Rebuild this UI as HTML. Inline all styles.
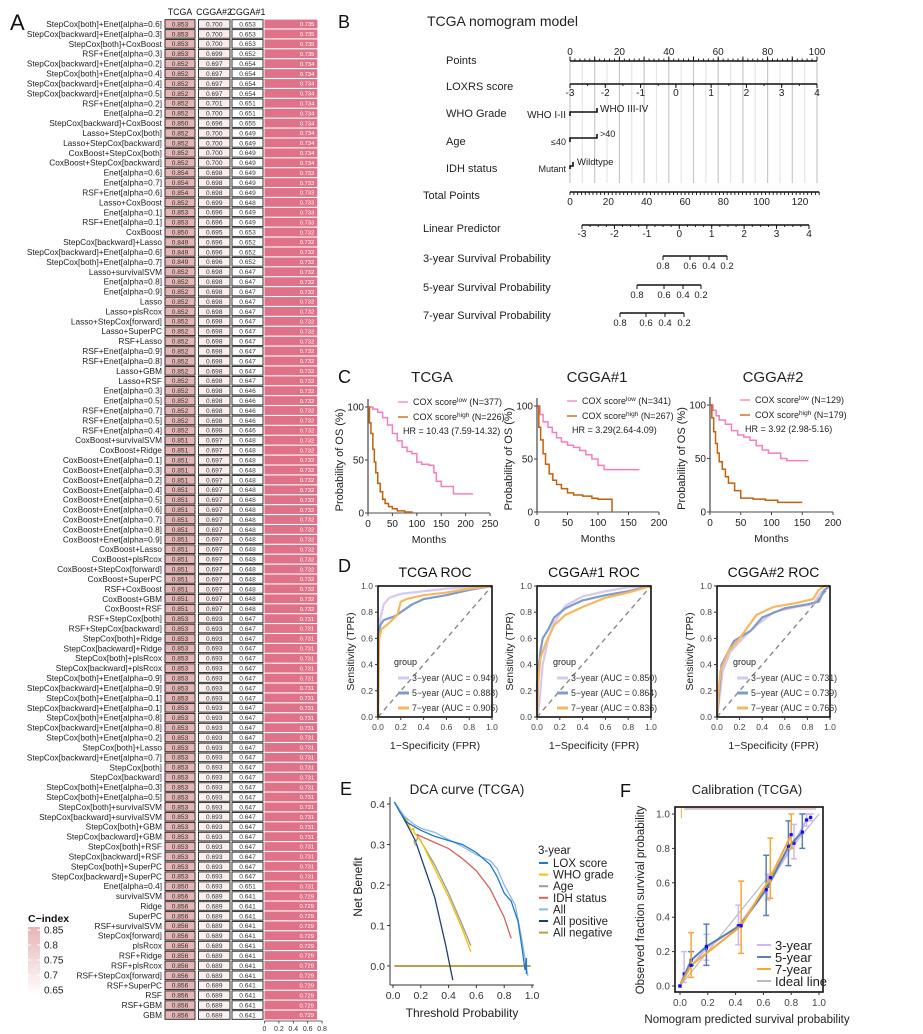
<!DOCTYPE html>
<html><head><meta charset="utf-8">
<style>
html,body{margin:0;padding:0;background:#fff;}
svg{display:block;font-family:"Liberation Sans",Arial,sans-serif;}
</style></head>
<body>
<svg id="fig" width="923" height="1034" viewBox="0 0 923 1034" xmlns="http://www.w3.org/2000/svg"></svg>
<script>
// ---------- Panel A data ----------
const models = ["StepCox[both]+Enet[alpha=0.6]","StepCox[backward]+Enet[alpha=0.3]","StepCox[both]+CoxBoost","RSF+Enet[alpha=0.3]","StepCox[backward]+Enet[alpha=0.2]","StepCox[both]+Enet[alpha=0.4]","StepCox[backward]+Enet[alpha=0.4]","StepCox[backward]+Enet[alpha=0.5]","RSF+Enet[alpha=0.2]","Enet[alpha=0.2]","StepCox[backward]+CoxBoost","Lasso+StepCox[both]","Lasso+StepCox[backward]","CoxBoost+StepCox[both]","CoxBoost+StepCox[backward]","Enet[alpha=0.6]","Enet[alpha=0.7]","RSF+Enet[alpha=0.6]","Lasso+CoxBoost","Enet[alpha=0.1]","RSF+Enet[alpha=0.1]","CoxBoost","StepCox[backward]+Lasso","StepCox[backward]+Enet[alpha=0.6]","StepCox[both]+Enet[alpha=0.7]","Lasso+survivalSVM","Enet[alpha=0.8]","Enet[alpha=0.9]","Lasso","Lasso+plsRcox","Lasso+StepCox[forward]","Lasso+SuperPC","RSF+Lasso","RSF+Enet[alpha=0.9]","RSF+Enet[alpha=0.8]","Lasso+GBM","Lasso+RSF","Enet[alpha=0.3]","Enet[alpha=0.5]","RSF+Enet[alpha=0.7]","RSF+Enet[alpha=0.5]","RSF+Enet[alpha=0.4]","CoxBoost+survivalSVM","CoxBoost+Ridge","CoxBoost+Enet[alpha=0.1]","CoxBoost+Enet[alpha=0.3]","CoxBoost+Enet[alpha=0.2]","CoxBoost+Enet[alpha=0.4]","CoxBoost+Enet[alpha=0.5]","CoxBoost+Enet[alpha=0.6]","CoxBoost+Enet[alpha=0.7]","CoxBoost+Enet[alpha=0.8]","CoxBoost+Enet[alpha=0.9]","CoxBoost+Lasso","CoxBoost+plsRcox","CoxBoost+StepCox[forward]","CoxBoost+SuperPC","RSF+CoxBoost","CoxBoost+GBM","CoxBoost+RSF","RSF+StepCox[both]","RSF+StepCox[backward]","StepCox[both]+Ridge","StepCox[backward]+Ridge","StepCox[both]+plsRcox","StepCox[backward]+plsRcox","StepCox[both]+Enet[alpha=0.9]","StepCox[backward]+Enet[alpha=0.9]","StepCox[both]+Enet[alpha=0.1]","StepCox[backward]+Enet[alpha=0.1]","StepCox[both]+Enet[alpha=0.8]","StepCox[backward]+Enet[alpha=0.8]","StepCox[both]+Enet[alpha=0.2]","StepCox[both]+Lasso","StepCox[backward]+Enet[alpha=0.7]","StepCox[both]","StepCox[backward]","StepCox[both]+Enet[alpha=0.3]","StepCox[both]+Enet[alpha=0.5]","StepCox[both]+survivalSVM","StepCox[backward]+survivalSVM","StepCox[both]+GBM","StepCox[backward]+GBM","StepCox[both]+RSF","StepCox[backward]+RSF","StepCox[both]+SuperPC","StepCox[backward]+SuperPC","Enet[alpha=0.4]","survivalSVM","Ridge","SuperPC","RSF+survivalSVM","StepCox[forward]","plsRcox","RSF+Ridge","RSF+plsRcox","RSF+StepCox[forward]","RSF+SuperPC","RSF","RSF+GBM","GBM"];
const cTCGA = [0.853,0.853,0.853,0.853,0.852,0.852,0.852,0.852,0.852,0.852,0.850,0.852,0.852,0.852,0.852,0.854,0.854,0.854,0.852,0.853,0.853,0.850,0.849,0.849,0.849,
0.852,0.852,0.852,0.852,0.852,0.852,0.852,0.852,0.852,0.852,0.852,0.852,0.852,0.852,0.852,0.852,0.852,
0.851,0.851,0.851,0.851,0.851,0.851,0.851,0.851,0.851,0.851,0.851,0.851,0.851,0.851,0.851,0.851,0.851,0.851,
0.853,0.853,0.853,0.853,0.853,0.853,0.853,0.853,0.853,0.853,0.853,0.853,0.853,0.853,0.853,0.853,0.853,0.853,0.853,0.853,0.853,0.853,0.853,0.853,0.853,0.853,0.853,
0.850,0.856,0.856,0.856,0.856,0.856,0.856,0.856,0.856,0.856,0.856,0.856,0.856,0.856];
const cCGGA2 = [0.700,0.700,0.700,0.699,0.697,0.697,0.697,0.697,0.701,0.700,0.696,0.700,0.700,0.700,0.700,0.698,0.698,0.698,0.699,0.696,0.696,0.695,0.696,0.696,0.696,
0.698,0.698,0.698,0.698,0.698,0.698,0.698,0.698,0.698,0.698,0.698,0.698,0.698,0.698,0.698,0.698,0.698,
0.697,0.697,0.697,0.697,0.697,0.697,0.697,0.697,0.697,0.697,0.697,0.697,0.697,0.697,0.697,0.697,0.697,0.697,
0.693,0.693,0.693,0.693,0.693,0.693,0.693,0.693,0.693,0.693,0.693,0.693,0.693,0.693,0.693,0.693,0.693,0.693,0.693,0.693,0.693,0.693,0.693,0.693,0.693,0.693,0.693,
0.693,0.689,0.689,0.689,0.689,0.689,0.689,0.689,0.689,0.689,0.689,0.689,0.689,0.689];
const cCGGA1 = [0.653,0.653,0.653,0.652,0.654,0.654,0.654,0.654,0.651,0.651,0.655,0.649,0.649,0.649,0.649,0.649,0.649,0.649,0.648,0.649,0.649,0.653,0.652,0.652,0.652,
0.647,0.647,0.647,0.647,0.647,0.647,0.647,0.647,0.647,0.647,0.647,0.647,0.646,0.646,0.646,0.646,0.646,
0.648,0.648,0.648,0.648,0.648,0.648,0.648,0.648,0.648,0.648,0.648,0.648,0.648,0.648,0.648,0.648,0.648,0.648,
0.647,0.647,0.647,0.647,0.647,0.647,0.647,0.647,0.647,0.647,0.647,0.647,0.647,0.647,0.647,0.647,0.647,0.647,0.647,0.647,0.647,0.647,0.647,0.647,0.647,0.647,0.647,
0.651,0.641,0.641,0.641,0.641,0.641,0.641,0.641,0.641,0.641,0.641,0.641,0.641,0.641];
const cMean = [0.735,0.735,0.735,0.735,0.734,0.734,0.734,0.734,0.734,0.734,0.734,0.734,0.734,0.734,0.734,0.733,0.733,0.733,0.733,0.733,0.733,0.732,0.732,0.732,0.732,
0.732,0.732,0.732,0.732,0.732,0.732,0.732,0.732,0.732,0.732,0.732,0.732,0.732,0.732,0.732,0.732,0.732,
0.732,0.732,0.732,0.732,0.732,0.732,0.732,0.732,0.732,0.732,0.732,0.732,0.732,0.732,0.732,0.732,0.732,0.732,
0.731,0.731,0.731,0.731,0.731,0.731,0.731,0.731,0.731,0.731,0.731,0.731,0.731,0.731,0.731,0.731,0.731,0.731,0.731,0.731,0.731,0.731,0.731,0.731,0.731,0.731,0.731,
0.731,0.729,0.729,0.729,0.729,0.729,0.729,0.729,0.729,0.729,0.729,0.729,0.729,0.729];
const barTicks = [0,0.2,0.4,0.6,0.8];
const cLegendTicks = [0.85,0.8,0.75,0.7,0.65];

// ---------- Panel C data (KM) ----------
const kmTime_TCGA_low  = [0,10,20,30,40,50,60,70,80,90,100,110,125,135,140,150,165,175,215];
const kmSurv_TCGA_low  = [100,98,95,90,83,75,68,62,58,56,48,46,45,38,30,25,25,18,18];
const kmTime_TCGA_high = [0,3,6,10,13,16,20,25,30,35,42,50,60,75,90];
const kmSurv_TCGA_high = [100,85,75,60,48,38,28,20,13,9,6,4,2,1,0];
const kmTime_C1_low  = [0,5,10,18,25,32,40,50,60,70,80,90,100,110,168];
const kmSurv_C1_low  = [100,92,85,80,75,70,66,63,61,58,54,50,44,40,40];
const kmTime_C1_high = [0,3,6,10,14,20,26,32,40,50,60,75,90,100,122,123];
const kmSurv_C1_high = [100,80,68,55,45,36,30,26,22,18,16,15,13,12,12,0];
const kmTime_C2_low  = [0,5,10,15,25,35,45,55,65,75,85,95,105,115,125,160];
const kmSurv_C2_low  = [100,95,90,86,82,76,72,70,67,62,58,55,55,50,48,48];
const kmTime_C2_high = [0,3,6,9,12,15,20,25,30,40,50,70,90,110,150];
const kmSurv_C2_high = [100,88,75,64,55,47,40,33,27,20,13,12,11,9,9];

// ---------- Panel D data (ROC) ----------
const rocT_3y_fpr=[0,0,0.01,0.02,0.05,0.1,0.2,0.4,0.6,0.8,1];
const rocT_3y_tpr=[0,0.3,0.6,0.75,0.86,0.91,0.94,0.96,0.98,0.99,1];
const rocT_5y_fpr=[0,0,0.02,0.05,0.15,0.2,0.3,0.4,0.6,0.8,1];
const rocT_5y_tpr=[0,0.6,0.7,0.74,0.77,0.8,0.86,0.9,0.93,0.97,1];
const rocT_7y_fpr=[0,0.01,0.03,0.1,0.17,0.2,0.25,0.4,0.6,0.8,1];
const rocT_7y_tpr=[0,0.6,0.67,0.72,0.78,0.88,0.9,0.93,0.95,0.98,1];
const rocA_3y_fpr=[0,0.02,0.05,0.1,0.15,0.25,0.4,0.6,0.8,1];
const rocA_3y_tpr=[0,0.1,0.4,0.6,0.72,0.85,0.92,0.96,0.99,1];
const rocA_5y_fpr=[0,0,0.03,0.05,0.1,0.15,0.25,0.4,0.6,0.8,1];
const rocA_5y_tpr=[0,0.25,0.5,0.6,0.67,0.76,0.83,0.89,0.93,0.96,1];
const rocA_7y_fpr=[0,0.01,0.03,0.08,0.15,0.25,0.4,0.6,0.8,1];
const rocA_7y_tpr=[0,0.25,0.45,0.57,0.7,0.78,0.84,0.91,0.95,1];
const rocB_3y_fpr=[0,0.03,0.05,0.12,0.25,0.35,0.5,0.7,0.85,0.92,1];
const rocB_3y_tpr=[0,0.2,0.35,0.5,0.62,0.7,0.8,0.84,0.86,0.95,1];
const rocB_5y_fpr=[0,0.02,0.04,0.15,0.3,0.4,0.6,0.8,0.9,0.95,1];
const rocB_5y_tpr=[0,0.2,0.4,0.58,0.66,0.76,0.83,0.86,0.88,0.97,1];
const rocB_7y_fpr=[0,0.01,0.03,0.1,0.2,0.35,0.5,0.7,0.85,0.9,0.95,1];
const rocB_7y_tpr=[0,0.15,0.35,0.5,0.6,0.78,0.84,0.87,0.9,0.97,1,1];
const aucT=["0.949","0.888","0.905"], aucA=["0.850","0.864","0.836"], aucB=["0.731","0.739","0.766"];
const rocTicks=[0,0.2,0.4,0.6,0.8,1.0];

// ---------- Panel E data (DCA) ----------
const dcaX_LOX=[0.01,0.05,0.1,0.15,0.2,0.3,0.4,0.5,0.6,0.7,0.75,0.8,0.85,0.9,0.93,0.95,0.96,0.96];
const dcaY_LOX=[0.405,0.38,0.355,0.345,0.335,0.32,0.31,0.3,0.28,0.25,0.22,0.18,0.16,0.11,0.04,-0.01,0.02,-0.02];
const dcaX_All=[0.01,0.08,0.15,0.2,0.3,0.4,0.5,0.6,0.7,0.75,0.8,0.88,0.93,0.97];
const dcaY_All=[0.405,0.37,0.35,0.34,0.33,0.312,0.295,0.275,0.26,0.24,0.2,0.15,0.06,-0.025];
const dcaX_IDH=[0.17,0.3,0.4,0.5,0.6,0.7,0.8,0.85];
const dcaY_IDH=[0.325,0.305,0.29,0.265,0.235,0.19,0.12,0.068];
const dcaX_WHO=[0.01,0.1,0.13,0.15,0.15,0.2,0.3,0.4,0.5,0.56];
const dcaY_WHO=[0.405,0.36,0.335,0.34,0.33,0.31,0.24,0.17,0.09,0.035];
const dcaX_Age=[0.15,0.16,0.18,0.3,0.4,0.5,0.56];
const dcaY_Age=[0.31,0.3,0.32,0.25,0.18,0.1,0.05];
const dcaX_Pos=[0.01,0.1,0.16,0.2,0.3,0.38,0.43];
const dcaY_Pos=[0.405,0.35,0.31,0.27,0.17,0.05,-0.035];
const dcaX_Neg=[0.01,0.99];
const dcaY_Neg=[0,0];
const dcaXTicks=[0,0.2,0.4,0.6,0.8,1.0], dcaYTicks=[0,0.1,0.2,0.3,0.4];

// ---------- Panel F data (calibration) ----------
const cal3_pred=[0,0.03,0.19,0.42,0.63,0.82,0.91,0.94];
const cal3_obs =[0,0.07,0.22,0.35,0.58,0.83,0.965,0.98];
const cal3_lo  =[0,0.02,0.15,0.24,0.5,0.74,0.93,0.96];
const cal3_hi  =[0,0.2,0.3,0.47,0.65,0.94,1,1];
const cal5_pred=[0,0.08,0.19,0.43,0.62,0.78,0.88];
const cal5_obs =[0,0.15,0.23,0.35,0.56,0.81,0.895];
const cal5_lo  =[0,0.12,0.12,0.35,0.41,0.7,0.8];
const cal5_hi  =[0,0.2,0.36,0.35,0.76,0.96,1.0];
const cal7_pred=[0,0.08,0.44,0.65,0.8];
const cal7_obs =[0,0.12,0.35,0.63,0.88];
const cal7_lo  =[0,0.05,0.19,0.51,0.8];
const cal7_hi  =[0,0.31,0.61,0.86,1.0];
const calTicks=[0,0.2,0.4,0.6,0.8,1.0];

const NS="http://www.w3.org/2000/svg";
const svg=document.getElementById('fig');
function mk(tag,attrs,parent){const e=document.createElementNS(NS,tag);for(const k in attrs)e.setAttribute(k,attrs[k]);(parent||svg).appendChild(e);return e;}
function tx(x,y,s,size,anchor,parent,extra){const e=mk('text',Object.assign({x:x,y:y,'font-size':size,'text-anchor':anchor||'start',fill:'#111'},extra||{}),parent);e.textContent=s;return e;}
function grp(name){const g=mk('g',{});return g;}

// ================= PANEL A =================
(function(){
const g=grp('panel-a-cindex-heatmap');
tx(10,30,'A',22,'start',g);
tx(180,15,'TCGA',8.8,'middle',g);
tx(214,15,'CGGA#2',8.8,'middle',g);
tx(247.5,15,'CGGA#1',8.8,'middle',g);
const y0=24, dy=9.91;
const rowY=i=>y0+i*dy;
const col=v=>{const t=Math.max(0,Math.min(1,(v-0.65)/0.2));const r=Math.round(255-(255-229)*t),gg=Math.round(255-(255-180)*t),b=Math.round(255-(255-180)*t);return `rgb(${r},${gg},${b})`;};
const bx0=264.5, bScale=72;
const bxs=v=>bx0+v*bScale;
const cols=[[165,30,cTCGA,'tcga'],[198.5,31.5,cCGGA2,'cgga2'],[232,31,cCGGA1,'cgga1']];
for(let i=0;i<models.length;i++){
  const y=rowY(i);
  const lt=tx(162,y+3,models[i],8.3,'end',g,{fill:'#222'});
  
  for(const [cx,cw,arr,nm] of cols){
    const r=mk('rect',{x:cx,y:y-4.3,width:cw,height:8.6,fill:col(arr[i]),stroke:'#222','stroke-width':0.9},g);
    
    
    tx(cx+cw/2,y+2.4,arr[i].toFixed(3),6.6,'middle',g,{fill:'#333'});
  }
  const b=mk('rect',{x:bx0,y:y-4.4,width:bxs(cMean[i])-bx0,height:8.8,fill:'#df7189'},g);
  
  
  tx(bxs(cMean[i])-3,y+2.2,cMean[i].toFixed(3),5.8,'end',g,{fill:'#fff'});
}
const axY=rowY(models.length-1)+6;
const al=mk('line',{x1:bx0,x2:bxs(0.8),y1:axY,y2:axY,stroke:'#333','stroke-width':0.8},g);

for(const t of barTicks){mk('line',{x1:bxs(t),x2:bxs(t),y1:axY,y2:axY+2.5,stroke:'#333','stroke-width':0.8},g);
const tl=tx(bxs(t),axY+10,String(t),7,'middle',g,{fill:'#333'});
}
const defs=mk('defs',{});
const lg=mk('linearGradient',{id:'cidx',x1:0,y1:1,x2:0,y2:0},defs);
mk('stop',{offset:0,'stop-color':'#ffffff'},lg);mk('stop',{offset:1,'stop-color':'#e8b4b4'},lg);
tx(28,922,'C\u2212index',10.5,'start',g,{'font-weight':'bold'});
const lr=mk('rect',{x:28,y:927,width:12,height:68,fill:'url(#cidx)'},g);


const ly=v=>930+(0.85-v)/0.2*60;
for(const v of cLegendTicks){mk('line',{x1:28,x2:31,y1:ly(v),y2:ly(v),stroke:'#fff'},g);mk('line',{x1:37,x2:40,y1:ly(v),y2:ly(v),stroke:'#fff'},g);
tx(44,ly(v)+3.5,String(v),10,'start',g,{fill:'#222'});}
})();

// ================= PANEL B (nomogram) =================
(function(){
const g=grp('panel-b-nomogram');
tx(338,28,'B',18,'start',g);
tx(427,26,'TCGA nomogram model',14,'start',g,{fill:'#222'});
const px=p=>570+p*2.47;
for(let p=0;p<=100;p+=5){const l=mk('line',{x1:px(p),x2:px(p),y1:62,y2:183,stroke:p%10===0?'#c8c8c8':'#e6e6e6','stroke-width':1.2},g);}
function axis(y,x0,x1,majors,labels,minors,labBelow,size){
  mk('line',{x1:x0,x2:x1,y1:y,y2:y,stroke:'#111','stroke-width':1.6},g);
  for(const m of minors) mk('line',{x1:m,x2:m,y1:y,y2:labBelow?y+2:y-2,stroke:'#111','stroke-width':0.9},g);
  majors.forEach((m,i)=>{mk('line',{x1:m,x2:m,y1:labBelow?y:y-4,y2:labBelow?y+4:y,stroke:'#111','stroke-width':1},g);
   if(labels[i]!==null) tx(m,labBelow?y+12:y-5,labels[i],size||10,'middle',g,{fill:'#222'});});
}
const rows=[['Points',446,64],['LOXRS score',446,90],['WHO Grade',446,117],['Age',446,145],['IDH status',446,172],['Total Points',423,199],['Linear Predictor',423,232],['3-year Survival Probability',423,262],['5-year Survival Probability',423,291],['7-year Survival Probability',423,319]];
for(const r of rows){tx(r[1],r[2],r[0],11,'start',g,{fill:'#222'});}
const ptsMaj=[0,20,40,60,80,100];
const ptsMin=[];for(let p=0;p<=100;p+=2)ptsMin.push(px(p));
mk('line',{x1:px(0),x2:px(100),y1:61,y2:61,stroke:'#111','stroke-width':1.6},g);
for(const m of ptsMin) mk('line',{x1:m,x2:m,y1:61,y2:58.5,stroke:'#111','stroke-width':0.9},g);
for(let p=0;p<=100;p+=10) mk('line',{x1:px(p),x2:px(p),y1:61,y2:56.5,stroke:'#111','stroke-width':1},g);
for(const p of ptsMaj) tx(px(p),55,String(p),10,'middle',g,{fill:'#222'});
const lox=v=>570+(v+3)/7*247;
const loxM=[],loxL=[],loxm=[];for(let v=-3;v<=4;v++){loxM.push(lox(v));loxL.push(String(v));}
for(let v=-3;v<=4;v+=0.5)loxm.push(lox(v));
axis(84,570,817,loxM,loxL,loxm,true,10);
mk('path',{d:`M570 116 V112 H597 V108`,fill:'none',stroke:'#111','stroke-width':1.6},g);
tx(566,118,'WHO I-II',10,'end',g,{fill:'#222'});tx(600,112,'WHO III-IV',10,'start',g,{fill:'#222'});
mk('path',{d:`M570 142 V138 H597 V134`,fill:'none',stroke:'#111','stroke-width':1.6},g);
tx(566,145,'≤40',9,'end',g,{fill:'#222'});tx(600,137,'>40',9,'start',g,{fill:'#222'});
mk('path',{d:`M570 169 V166 H573 V162`,fill:'none',stroke:'#111','stroke-width':1.6},g);
tx(566,172,'Mutant',9,'end',g,{fill:'#222'});tx(577,165,'Wildtype',9.5,'start',g,{fill:'#222'});
const tp=v=>570+v/120*230;
const tpM=[],tpL=[],tpm=[];for(let v=0;v<=120;v+=20){tpM.push(tp(v));tpL.push(String(v));}
for(let v=0;v<=130;v+=2)tpm.push(tp(v));
mk('line',{x1:570,x2:tp(130),y1:192,y2:192,stroke:'#111','stroke-width':1.6},g);
for(const m of tpm) mk('line',{x1:m,x2:m,y1:192,y2:195,stroke:'#111','stroke-width':0.9},g);
tpM.forEach((m,i)=>tx(m,205,tpL[i],10,'middle',g,{fill:'#222'}));
const lp=v=>582+(v+3)/7*227;
const lpM=[],lpL=[],lpm=[];for(let v=-3;v<=4;v++){lpM.push(lp(v));lpL.push(String(v));}
for(let v=-3;v<=4;v+=0.25)lpm.push(lp(v));
axis(225,lp(-3),lp(4),lpM,lpL,lpm,true,10);
const surv=[[256,[663,690,709,727]],[285,[637,664,683,701]],[313,[620,646,665,684]]];
const sl=['0.8','0.6','0.4','0.2'];
for(const [y,xs] of surv){mk('line',{x1:xs[0],x2:xs[3],y1:y,y2:y,stroke:'#111','stroke-width':1.4},g);
 xs.forEach((x,i)=>{mk('line',{x1:x,x2:x,y1:y,y2:y+4,stroke:'#111','stroke-width':1},g);tx(x,y+13,sl[i],9.5,'middle',g,{fill:'#222'});});}
})();

// ================= PANEL C (KM) =================
function kmPlot(name,title,tcx,x0,xMax,xEnd,xticks,y0,y100,legendN,hr,lowT,lowS,highT,highS){
 const g=grp(name);
 tx(tcx,382,title,15,'middle',g,{fill:'#222'});
 const xs=t=>x0+t/xMax*(xEnd-x0), ys=s=>y0-(s/100)*(y0-y100);
 const xa=mk('line',{x1:x0,x2:xEnd,y1:y0,y2:y0,stroke:'#888','stroke-width':1.5},g);
 
 const ya=mk('line',{x1:x0,x2:x0,y1:y0,y2:y100-8,stroke:'#222','stroke-width':1},g);
 
 for(const t of xticks){mk('line',{x1:xs(t),x2:xs(t),y1:y0,y2:y0+3,stroke:'#444'},g);tx(xs(t),y0+14,String(t),10,'middle',g,{fill:'#222'});}
 for(const s of [0,50,100]){mk('line',{x1:x0-3,x2:x0,y1:ys(s),y2:ys(s),stroke:'#444'},g);tx(x0-4,ys(s)+3.5,String(s),10,'end',g,{fill:'#222'});}
 tx((x0+xEnd)/2,y0+30,'Months',10.5,'middle',g,{fill:'#222'});
 const yl=tx(0,0,'Probability of OS (%)',11,'middle',g,{fill:'#222',transform:`translate(${x0-25},${(y0+y100)/2}) rotate(-90)`});
 
 function step(T,S,color,nm){let d=`M${xs(T[0])} ${ys(S[0])}`;for(let i=1;i<T.length;i++)d+=` H${xs(T[i])} V${ys(S[i])}`;
  const p=mk('path',{d:d,fill:'none',stroke:color,'stroke-width':1.5},g);}
 step(lowT,lowS,'#f47fc0','km-curve-low');
 step(highT,highS,'#c0620a','km-curve-high');
 const lx=x0+30;
 const l1=mk('line',{x1:lx,x2:lx+10,y1:y100-5,y2:y100-5,stroke:'#f47fc0','stroke-width':1.3},g);
 const l2=mk('line',{x1:lx,x2:lx+10,y1:y100+10,y2:y100+10,stroke:'#c0620a','stroke-width':1.3},g);
 const t1=tx(lx+15,y100-2,'',9,'start',g,{fill:'#222'});t1.innerHTML=`COX score<tspan dy="-3" font-size="6.5">low</tspan><tspan dy="3"> (N=${legendN[0]})</tspan>`;
 
 const t2=tx(lx+15,y100+13,'',9,'start',g,{fill:'#222'});t2.innerHTML=`COX score<tspan dy="-3" font-size="6.5">high</tspan><tspan dy="3"> (N=${legendN[1]})</tspan>`;
 
 tx(lx+5,y100+27,hr,9,'start',g,{fill:'#222'});
}
tx(338,383,'C',18,'start',svg);
kmPlot('km-tcga','TCGA',432,368,250,490,[0,50,100,150,200,250],513,407,[377,226],'HR = 10.43 (7.59-14.32)',kmTime_TCGA_low,kmSurv_TCGA_low,kmTime_TCGA_high,kmSurv_TCGA_high);
kmPlot('km-cgga1','CGGA#1',597,537,200,659,[0,50,100,150,200],512,406,[341,267],'HR = 3.29(2.64-4.09)',kmTime_C1_low,kmSurv_C1_low,kmTime_C1_high,kmSurv_C1_high);
kmPlot('km-cgga2','CGGA#2',773,710,200,833,[0,50,100,150,200],512,405,[129,179],'HR = 3.92 (2.98-5.16)',kmTime_C2_low,kmSurv_C2_low,kmTime_C2_high,kmSurv_C2_high);

// ================= PANEL D (ROC) =================
function rocPlot(name,title,x0,x1,curves,aucs){
 const g=grp(name);
 const yTop=586,yBot=717;
 tx((x0+x1)/2,577,title,14,'middle',g,{fill:'#111'});
 const xs=v=>x0+v*(x1-x0), ys=v=>yBot-v*(yBot-yTop);
 const dg=mk('line',{x1:xs(0),y1:ys(0),x2:xs(1),y2:ys(1),stroke:'#888','stroke-width':1.4,'stroke-dasharray':'5,4'},g);
 
 const cols=['#d7c8f0','#7f9cc8','#f5b860'];
 const names=['roc-3year','roc-5year','roc-7year'];
 curves.forEach((c,k)=>{let d='';for(let i=0;i<c[0].length;i++)d+=(i?'L':'M')+xs(c[0][i])+' '+ys(c[1][i]);
  const p=mk('path',{d:d,fill:'none',stroke:cols[k],'stroke-width':2.2,'stroke-linejoin':'round'},g);
  
  });
 const fr=mk('rect',{x:x0,y:yTop,width:x1-x0,height:yBot-yTop,fill:'none',stroke:'#111','stroke-width':1.6},g);
 
 for(const t of rocTicks){mk('line',{x1:xs(t),x2:xs(t),y1:yBot,y2:yBot+3,stroke:'#333'},g);tx(xs(t),yBot+13,t.toFixed(1),8.5,'middle',g,{fill:'#444'});
  mk('line',{x1:x0-3,x2:x0,y1:ys(t),y2:ys(t),stroke:'#333'},g);tx(x0-5,ys(t)+3,t.toFixed(1),8.5,'end',g,{fill:'#444'});}
 tx((x0+x1)/2,749,'1\u2212Specificity (FPR)',10.5,'middle',g,{fill:'#222'});
 tx(0,0,'Sensitivity (TPR)',10.5,'middle',g,{fill:'#222',transform:`translate(${x0-24},${(yTop+yBot)/2}) rotate(-90)`});
 tx(x0+16,665,'group',9,'start',g,{fill:'#222'});
 const yrs=['3\u2212year','5\u2212year','7\u2212year'];
 for(let k=0;k<3;k++){const y=678+k*15;
  const sw=mk('line',{x1:x0+20,x2:x0+31,y1:y,y2:y,stroke:cols[k],'stroke-width':3},g);
  tx(x0+34,y+3,`${yrs[k]} (AUC = ${aucs[k]})`,8.8,'start',g,{fill:'#333'});}
}
tx(338,572,'D',18,'start',svg);
rocPlot('roc-tcga','TCGA ROC',378,492,[[rocT_3y_fpr,rocT_3y_tpr],[rocT_5y_fpr,rocT_5y_tpr],[rocT_7y_fpr,rocT_7y_tpr]],aucT);
rocPlot('roc-cgga1','CGGA#1 ROC',537,651,[[rocA_3y_fpr,rocA_3y_tpr],[rocA_5y_fpr,rocA_5y_tpr],[rocA_7y_fpr,rocA_7y_tpr]],aucA);
rocPlot('roc-cgga2','CGGA#2  ROC',717,830,[[rocB_3y_fpr,rocB_3y_tpr],[rocB_5y_fpr,rocB_5y_tpr],[rocB_7y_fpr,rocB_7y_tpr]],aucB);

// ================= PANEL E (DCA) =================
(function(){
 const g=grp('panel-e-dca');
 tx(340,795,'E',18,'start',g);
 tx(467,794,'DCA curve (TCGA)',13.5,'middle',g,{fill:'#222'});
 const xs=v=>393+v*139, ys=v=>966-v*405;
 const xa=mk('line',{x1:390,x2:534,y1:985,y2:985,stroke:'#333','stroke-width':1},g);
 const ya=mk('line',{x1:390,x2:390,y1:797,y2:985,stroke:'#333','stroke-width':1},g);
 for(const t of dcaXTicks){mk('line',{x1:xs(t),x2:xs(t),y1:985,y2:988,stroke:'#333'},g);tx(xs(t),999,t.toFixed(1),10.5,'middle',g,{fill:'#333'});}
 for(const t of dcaYTicks){mk('line',{x1:387,x2:390,y1:ys(t),y2:ys(t),stroke:'#333'},g);tx(385,ys(t)+4,t.toFixed(1),10.5,'end',g,{fill:'#333'});}
 tx(462,1017,'Threshold Probability',12,'middle',g,{fill:'#222'});
 tx(0,0,'Net Benefit',12,'middle',g,{fill:'#222',transform:'translate(362,887) rotate(-90)'});
 const series=[[dcaX_Neg,dcaY_Neg,'#b8a050','dca-all-negative'],[dcaX_Pos,dcaY_Pos,'#1f3f6f','dca-all-positive'],[dcaX_Age,dcaY_Age,'#9a9a9a','dca-age'],[dcaX_WHO,dcaY_WHO,'#f2c200','dca-who-grade'],[dcaX_IDH,dcaY_IDH,'#d66060','dca-idh-status'],[dcaX_All,dcaY_All,'#8ab8e8','dca-all'],[dcaX_LOX,dcaY_LOX,'#1f78c8','dca-lox-score']];
 for(const [X,Y,c,n] of series){let d='';for(let i=0;i<X.length;i++)d+=(i?'L':'M')+xs(X[i])+' '+ys(Y[i]);
  const p=mk('path',{d:d,fill:'none',stroke:c,'stroke-width':n==='dca-all-negative'?2:1.3},g);
  
  }
 tx(538,854,'3-year',11.5,'start',g,{fill:'#222'});
 const leg=[['LOX score','#1f78c8'],['WHO grade','#f2c200'],['Age','#9a9a9a'],['IDH status','#d66060'],['All','#8ab8e8'],['All positive','#1f3f6f'],['All negative','#b8a050']];
 leg.forEach((l,i)=>{const y=863+i*11.6;
  const s=mk('line',{x1:539,x2:548,y1:y,y2:y,stroke:l[1],'stroke-width':2},g);
  tx(553,y+4,l[0],11.5,'start',g,{fill:'#222'});});
})();

// ================= PANEL F (calibration) =================
(function(){
 const g=grp('panel-f-calibration');
 tx(620,797,'F',18,'start',g);
 tx(747,794,'Calibration (TCGA)',13,'middle',g,{fill:'#222'});
 const xs=v=>680+v*139, ys=v=>986-v*172;
 const ideal=mk('line',{x1:xs(0),y1:ys(0),x2:xs(1),y2:ys(1),stroke:'#bbb','stroke-width':1.2},g);
 
 const rug=mk('rect',{x:xs(0.03),y:807,width:xs(0.98)-xs(0.03),height:3,fill:'#d7c8f0'},g);
 mk('line',{x1:xs(0.03),x2:xs(0.98),y1:808,y2:808,stroke:'#f5b860','stroke-width':0.8},g);
 mk('line',{x1:xs(0.01),x2:xs(0.01),y1:807,y2:818,stroke:'#f5b860','stroke-width':1.2},g);
 const ser=[[cal3_pred,cal3_obs,cal3_lo,cal3_hi,'#cdb8ee','calibration-3year'],[cal5_pred,cal5_obs,cal5_lo,cal5_hi,'#5a7fb5','calibration-5year'],[cal7_pred,cal7_obs,cal7_lo,cal7_hi,'#f5a833','calibration-7year']];
 for(const [P,O,L,H,c,n] of ser){
  for(let i=0;i<P.length;i++){if(H[i]===L[i])continue;const x=xs(P[i]);
   mk('path',{d:`M${x} ${ys(L[i])}V${ys(H[i])}M${x-3} ${ys(L[i])}H${x+3}M${x-3} ${ys(H[i])}H${x+3}`,stroke:c,'stroke-width':1.5,fill:'none'},g);}
  let d='';for(let i=0;i<P.length;i++)d+=(i?'L':'M')+xs(P[i])+' '+ys(O[i]);
  const p=mk('path',{d:d,fill:'none',stroke:c,'stroke-width':2},g);
  
  
  for(let i=0;i<P.length;i++){const q=mk('rect',{x:xs(P[i])-1.6,y:ys(O[i])-1.6,width:3.2,height:3.2,fill:'#1010ee'},g);}
 }
 const fr=mk('rect',{x:675,y:807,width:148,height:185,fill:'none',stroke:'#111','stroke-width':1.6},g);
 for(const t of calTicks){mk('line',{x1:xs(t),x2:xs(t),y1:992,y2:995,stroke:'#333'},g);tx(xs(t),1006,t.toFixed(1),10,'middle',g,{fill:'#444'});
  mk('line',{x1:672,x2:675,y1:ys(t),y2:ys(t),stroke:'#333'},g);tx(670,ys(t)+3.5,t.toFixed(1),10,'end',g,{fill:'#444'});}
 tx(747,1023,'Nomogram predicted survival probability',11.5,'middle',g,{fill:'#222'});
 tx(0,0,'Observed fraction survival probability',11.5,'middle',g,{fill:'#222',transform:'translate(644,900) rotate(-90)'});
 const leg=[['3-year','#cdb8ee'],['5-year','#5a7fb5'],['7-year','#f5a833'],['Ideal line','#bbb']];
 leg.forEach((l,i)=>{const y=945+i*12;
  const s=mk('line',{x1:757,x2:771,y1:y,y2:y,stroke:l[1],'stroke-width':2},g);
  tx(775,y+5,l[0],13,'start',g,{fill:'#222'});});
})();
</script>
</body></html>
